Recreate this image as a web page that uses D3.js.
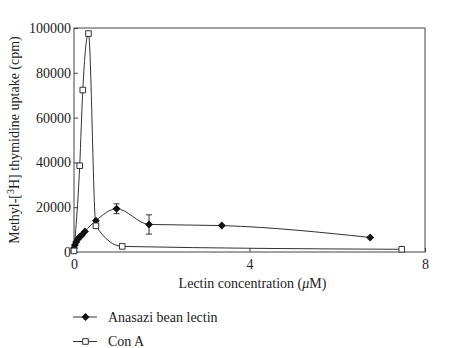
<!DOCTYPE html>
<html lang="en">
<head>
  <meta charset="UTF-8">
  <title>Lectin concentration</title>
  <style>
    body { margin: 0; background: #fff; }
    svg text { font-family: 'Liberation Serif', 'DejaVu Serif', serif; fill: #222; }
    .axis text { font-size: 14px; }
    .axis path, .axis line { stroke: #444; }
    .lbl { font-size: 14px; }
  </style>
</head>
<body>
  <svg width="450" height="348"></svg>
  <script src="https://cdn.jsdelivr.net/npm/d3@7"></script>
  <script>
    // data
    var lectinX = [0, 0.02, 0.05, 0.09, 0.13, 0.18, 0.25, 0.5, 0.97, 1.71, 3.37, 6.75]
    var lectinY = [1800, 3100, 4500, 5800, 6700, 7600, 9200, 14000, 19300, 12300, 11800, 6500]
    var lectinErr = [0, 0, 0, 0, 0, 0, 0, 0, 2200, 4300, 0, 0]
    var conaX = [0, 0.13, 0.2, 0.33, 0.5, 1.1, 7.47]
    var conaY = [500, 38500, 72300, 97500, 11700, 2500, 1200]
    var xTicks = [0, 4, 8]
    var yTicks = [0, 20000, 40000, 60000, 80000, 100000]

    var svg = d3.select('svg')
    var mLeft = 74, mRight = 425, mTop = 28, mBottom = 252

    var x = d3.scaleLinear().domain([0, 8]).range([mLeft, mRight])
    var y = d3.scaleLinear().domain([0, 100000]).range([mBottom, mTop])

    // frame
    svg.append('rect')
      .attr('x', mLeft).attr('y', mTop)
      .attr('width', mRight - mLeft).attr('height', mBottom - mTop)
      .attr('fill', 'none').attr('stroke', '#444')

    svg.append('g').attr('class', 'axis')
      .attr('transform', 'translate(0,' + mBottom + ')')
      .call(d3.axisBottom(x).tickValues(xTicks).tickSizeInner(-4).tickSizeOuter(0).tickPadding(7))
      .call(g => g.select('.domain').remove())

    svg.append('g').attr('class', 'axis')
      .attr('transform', 'translate(' + mLeft + ',0)')
      .call(d3.axisLeft(y).tickValues(yTicks).tickFormat(d3.format('d')).tickSizeInner(-4).tickSizeOuter(0).tickPadding(3))
      .call(g => g.select('.domain').remove())

    svg.selectAll('.axis text').attr('font-family', null)

    var line = d3.line().curve(d3.curveMonotoneX)
      .x(d => x(d[0])).y(d => y(d[1]))

    var lectin = lectinX.map((v, i) => [v, lectinY[i], lectinErr[i]])
    var cona = conaX.map((v, i) => [v, conaY[i]])

    svg.append('path').datum(cona).attr('d', line)
      .attr('fill', 'none').attr('stroke', '#333').attr('stroke-width', 1)
    svg.append('path').datum(lectin).attr('d', line)
      .attr('fill', 'none').attr('stroke', '#333').attr('stroke-width', 1)

    // error bars
    var eb = svg.append('g').selectAll('g').data(lectin.filter(d => d[2] > 0)).enter().append('g')
      .attr('stroke', '#333').attr('stroke-width', 1)
    eb.append('line')
      .attr('x1', d => x(d[0])).attr('x2', d => x(d[0]))
      .attr('y1', d => y(d[1] + d[2])).attr('y2', d => y(d[1] - d[2]))
    eb.append('line')
      .attr('x1', d => x(d[0]) - 3).attr('x2', d => x(d[0]) + 3)
      .attr('y1', d => y(d[1] + d[2])).attr('y2', d => y(d[1] + d[2]))
    eb.append('line')
      .attr('x1', d => x(d[0]) - 3).attr('x2', d => x(d[0]) + 3)
      .attr('y1', d => y(d[1] - d[2])).attr('y2', d => y(d[1] - d[2]))

    var diamond = d3.symbol().type(d3.symbolDiamond2).size(40)
    var square = d3.symbol().type(d3.symbolSquare2).size(40)

    svg.append('g').selectAll('path').data(lectin).enter().append('path')
      .attr('d', diamond)
      .attr('transform', d => 'translate(' + x(d[0]) + ',' + y(d[1]) + ')')
      .attr('fill', '#111')

    svg.append('g').selectAll('path').data(cona).enter().append('path')
      .attr('d', square)
      .attr('transform', d => 'translate(' + x(d[0]) + ',' + y(d[1]) + ')')
      .attr('fill', '#fff').attr('stroke', '#333').attr('stroke-width', 1)

    // axis titles
    var xl = svg.append('text').attr('class', 'lbl').attr('font-size', '13.5px')
      .attr('x', (mLeft + mRight) / 2 + 3).attr('y', 288).attr('text-anchor', 'middle')
    xl.append('tspan').text('Lectin concentration (')
    xl.append('tspan').attr('font-style', 'italic').text('\u03bc')
    xl.append('tspan').text('M)')

    var yl = svg.append('text').attr('class', 'lbl').attr('font-size', '14.5px')
      .attr('transform', 'translate(19,140) rotate(-90)').attr('text-anchor', 'middle')
    yl.append('tspan').text('Methyl-[')
    yl.append('tspan').attr('font-size', '10px').attr('dy', -5).text('3')
    yl.append('tspan').attr('dy', 5).text('H] thymidine uptake (cpm)')

    // legend
    var legend = [
      { name: 'Anasazi bean lectin', sym: diamond, fill: '#111', yy: 317 },
      { name: 'Con A', sym: square, fill: '#fff', yy: 341.5 }
    ]
    var lg = svg.append('g').selectAll('g').data(legend).enter().append('g')
      .attr('transform', d => 'translate(0,' + d.yy + ')')
    lg.append('line').attr('x1', 73).attr('x2', 97)
      .attr('stroke', '#333')
    lg.append('path').attr('d', d => d.sym())
      .attr('transform', 'translate(85.5,0)')
      .attr('fill', d => d.fill).attr('stroke', d => d.fill === '#fff' ? '#333' : 'none')
    lg.append('text').attr('class', 'lbl').attr('x', 108).attr('y', 4.5)
      .text(d => d.name)
  </script>
</body>
</html>
